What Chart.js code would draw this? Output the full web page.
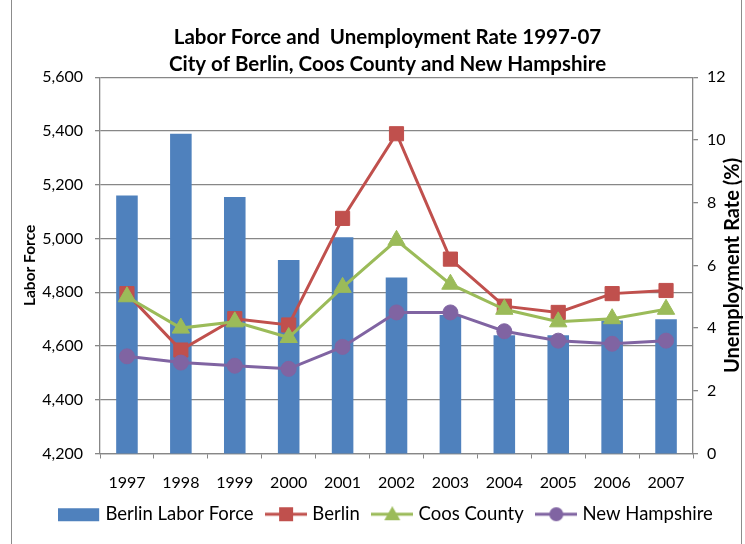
<!DOCTYPE html>
<html>
<head>
<meta charset="utf-8">
<title>Labor Force and Unemployment Rate 1997-07</title>
<script src="https://cdn.jsdelivr.net/npm/chart.js@4.4.0/dist/chart.umd.min.js"></script>
<style>
  html, body { margin: 0; padding: 0; background: #fff; }
  #wrap { position: relative; width: 745px; height: 544px; overflow: hidden; }
  #frame { position: absolute; left: 11px; top: -2px; width: 731px; height: 560px; border: 1px solid #8c8c8c; box-sizing: border-box; }
  #laborChart { position: absolute; left: 0; top: 0; }
</style>
</head>
<body>
<div id="wrap">
  <div id="frame"></div>
  <canvas id="laborChart" width="745" height="544" style="width:745px;height:544px"></canvas>
</div>
<script>
// Annual figures, 1997-2007
const years = ['1997', '1998', '1999', '2000', '2001', '2002', '2003', '2004', '2005', '2006', '2007'];
const berlinLaborForce = [5160, 5390, 5155, 4920, 5005, 4855, 4715, 4640, 4640, 4695, 4700];
const berlinRate = [5.1, 3.3, 4.3, 4.1, 7.5, 10.2, 6.2, 4.7, 4.5, 5.1, 5.2];
const coosRate = [5.0, 4.0, 4.2, 3.7, 5.3, 6.8, 5.4, 4.6, 4.2, 4.3, 4.6];
const nhRate = [3.1, 2.9, 2.8, 2.7, 3.4, 4.5, 4.5, 3.9, 3.6, 3.5, 3.6];

const BLUE = '#4f81bd', RED = '#c0504d', GREEN = '#9bbb59', PURPLE = '#8064a2';
const GRID = '#878787';

Chart.defaults.font.family = 'Lato, "Open Sans", sans-serif';
Chart.defaults.color = '#000';

// small line-and-marker swatches for the legend
function legendSymbol(color, kind) {
    const c = document.createElement('canvas');
    c.width = 42; c.height = 16;
    const g = c.getContext('2d');
    g.fillStyle = color;
    g.strokeStyle = color;
    if (kind === 'bar') {
        g.fillRect(0, 2, 41, 13);
        return c;
    }
    g.lineWidth = 3;
    g.beginPath(); g.moveTo(0, 8); g.lineTo(42, 8); g.stroke();
    g.beginPath();
    if (kind === 'rect') {
        g.rect(14, 1, 14, 14);
    } else if (kind === 'triangle') {
        g.moveTo(21, 0); g.lineTo(29, 14); g.lineTo(13, 14); g.closePath();
    } else {
        g.arc(21, 8, 7, 0, Math.PI * 2);
    }
    g.fill();
    return c;
}
const symbols = [
    legendSymbol(BLUE, 'bar'),
    legendSymbol(RED, 'rect'),
    legendSymbol(GREEN, 'triangle'),
    legendSymbol(PURPLE, 'circle')
];

// right axis title reads bottom-to-top like the left one
const rightTitle = {
    id: 'rightTitle',
    afterDraw(chart) {
        const { ctx, chartArea } = chart;
        const s = chart.scales.y1;
        ctx.save();
        ctx.translate(s.right - 12.5, (chartArea.top + chartArea.bottom) / 2);
        ctx.rotate(-Math.PI / 2);
        ctx.font = 'bold 20px Lato';
        ctx.fillStyle = '#000';
        ctx.textAlign = 'center';
        ctx.textBaseline = 'middle';
        ctx.fillText('Unemployment Rate (%)', 0, 0);
        ctx.restore();
    }
};

function lineSet(label, data, color, style, order) {
    return {
        type: 'line',
        label: label,
        data: data,
        yAxisID: 'y1',
        borderColor: color,
        backgroundColor: color,
        borderWidth: 3,
        pointStyle: style,
        pointRadius: style === 'circle' ? 7.5 : 10,
        pointBorderWidth: 1,
        tension: 0,
        order: order
    };
}

new Chart(document.getElementById('laborChart'), {
    type: 'bar',
    data: {
        labels: years,
        datasets: [
            {
                label: 'Berlin Labor Force',
                data: berlinLaborForce,
                yAxisID: 'y',
                backgroundColor: BLUE,
                categoryPercentage: 1,
                barPercentage: 0.4,
                order: 4
            },
            lineSet('Berlin', berlinRate, RED, 'rect', 3),
            lineSet('Coos County', coosRate, GREEN, 'triangle', 2),
            lineSet('New Hampshire', nhRate, PURPLE, 'circle', 1)
        ]
    },
    options: {
        responsive: false,
        animation: false,
        layout: { padding: { left: 30, right: 0, top: 0, bottom: 10.5 } },
        plugins: {
            title: {
                display: true,
                text: ['Labor Force and  Unemployment Rate 1997-07', 'City of Berlin, Coos County and New Hampshire'],
                font: { size: 20.5, weight: 'bold', lineHeight: 1.3 },
                padding: { top: 24, bottom: 0 },
                color: '#000'
            },
            legend: {
                position: 'bottom',
                labels: {
                    usePointStyle: true,
                    pointStyleWidth: 34,
                    font: { size: 18.5 },
                    padding: 15.5,
                    generateLabels(chart) {
                        const items = Chart.defaults.plugins.legend.labels.generateLabels(chart);
                        items.forEach(it => { it.pointStyle = symbols[it.datasetIndex]; });
                        return items;
                    },
                    sort: (a, b) => a.datasetIndex - b.datasetIndex
                }
            },
            tooltip: { enabled: false }
        },
        scales: {
            x: {
                grid: { display: true, drawOnChartArea: false, offset: true, color: GRID, tickLength: 5 },
                border: { color: GRID, width: 1.3 },
                ticks: { font: { size: 16 }, padding: 15, maxRotation: 0 },
                afterFit(scale) { scale.height = 36; }
            },
            y: {
                position: 'left',
                min: 4200,
                max: 5600,
                ticks: {
                    stepSize: 200,
                    font: { size: 16 },
                    padding: 12,
                    callback: v => v.toLocaleString('en-US')
                },
                grid: { color: GRID, lineWidth: 1.3, tickLength: 5 },
                border: { color: GRID, width: 1.3 },
                title: {
                    display: true,
                    text: 'Labor Force',
                    font: { size: 15.5, weight: 'bold' },
                    padding: { top: -9.3, bottom: 0 }
                },
                afterFit(scale) { scale.width = 70; }
            },
            y1: {
                position: 'right',
                min: 0,
                max: 12,
                ticks: { stepSize: 2, font: { size: 16 }, padding: 9 },
                grid: { drawOnChartArea: false, color: GRID, lineWidth: 1.3, tickLength: 5 },
                border: { color: GRID, width: 1.3 },
                afterFit(scale) { scale.width = 52; }
            }
        }
    },
    plugins: [rightTitle]
});
</script>
</body>
</html>
